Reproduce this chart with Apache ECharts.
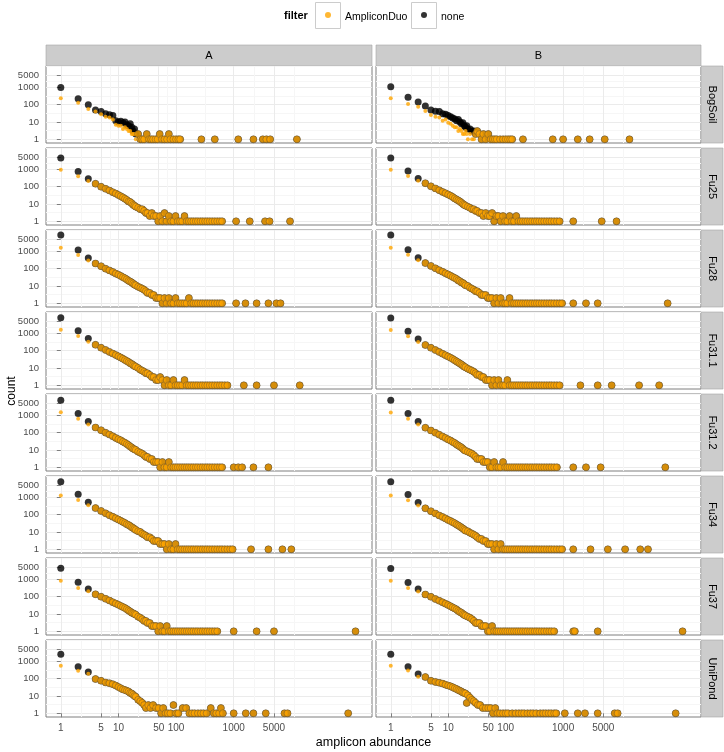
<!DOCTYPE html>
<html><head><meta charset="utf-8">
<script src="https://cdn.jsdelivr.net/npm/echarts@6/dist/echarts.min.js"></script>
<style>html,body{margin:0;padding:0;background:#fff}#c{width:724px;height:752px}</style>
</head><body><div id="c"></div>
<script>
// ---------- categories / ticks ----------
const rowNames = ['BogSoil','Fu25','Fu28','Fu31.1','Fu31.2','Fu34','Fu37','UniPond'];
const colNames = ['A','B'];
const legendNames = ['AmpliconDuo','none'];
const xTickLabels = [1,5,10,50,100,1000,5000];
const yTickLabels = [1,10,100,1000,5000];

// ---------- data: abundance, count(none), count(AmpliconDuo) ----------
const BogSoil_A_abund = [1,2,3,4,5,6,7,8,9,10,11,12,13,14,15,16,17,18,19,20,22,24,26,28,31,34,37,40,44,48,52,57,63,70,75,80,90,100,110,118,275,470,1200,2200,3200,3700,4300,12500];
const BogSoil_A_none  = [1000,220,100,49,40,30,26,24,12,10,11,9,10,7,6,8,5,3,4,2,2,1,1,1,2,1,1,1,1,1,2,1,1,1,2,1,1,1,1,1,1,1,1,1,1,1,1,1];
const BogSoil_A_amp   = [235,130,57,40,28,20,18,14,7,6,6,4,5,4,3,3,2,2,2,1,2,1,1,1,2,1,1,1,1,1,2,1,1,1,2,1,1,1,1,1,1,1,1,1,1,1,1,1];

const BogSoil_B_abund = [1,2,3,4,5,6,7,8,9,10,11,12,13,14,15,16,17,18,19,20,21,22,24,26,28,30,32,35,38,41,45,50,55,60,65,70,80,90,100,110,120,130,200,660,1000,1800,2900,5300,14300];
const BogSoil_B_none  = [1100,270,145,84,49,42,40,30,28,24,20,17,15,12,14,10,8,9,6,5,6,4,4,3,3,2,3,2,1,2,1,2,1,1,1,1,1,1,1,1,1,1,1,1,1,1,1,1,1];
const BogSoil_B_amp   = [235,110,76,43,25,20,18,12,14,9,8,6,5,5,3,4,3,2,2,3,2,1,2,1,1,2,3,2,1,2,1,2,1,1,1,1,1,1,1,1,1,1,1,1,1,1,1,1,1];

const Fu25_A_abund = [1,2,3,4,5,6,7,8,9,10,11,12,13,14,15,16,17,18,19,20,22,24,26,28,30,32,35,38,41,45,49,53,58,63,69,75,82,90,98,107,117,128,140,153,167,183,200,220,240,265,290,320,350,385,425,470,520,575,630,1100,1900,3500,4200,9500];
const Fu25_A_none  = [4500,750,290,150,100,75,60,48,40,33,28,24,20,17,14,13,11,9,8,7,6,5,5,4,3,3,2,3,2,2,1,2,1,3,1,2,1,1,2,1,1,1,2,1,1,1,1,1,1,1,1,1,1,1,1,1,1,1,1,1,1,1,1,1];
const Fu25_A_amp   = [950,400,210,150,100,75,60,48,40,33,28,24,20,17,14,13,11,9,8,7,6,5,5,4,3,3,2,3,2,2,1,2,1,3,1,2,1,1,2,1,1,1,2,1,1,1,1,1,1,1,1,1,1,1,1,1,1,1,1,1,1,1,1,1];

const Fu25_B_abund = [1,2,3,4,5,6,7,8,9,10,11,12,13,14,15,16,17,18,19,20,22,24,26,28,30,32,35,38,41,45,49,53,58,63,69,75,82,90,98,107,117,128,140,153,167,183,200,220,240,265,290,320,350,385,425,470,520,575,630,700,780,870,1500,4700,8500];
const Fu25_B_none  = [4600,800,300,160,105,80,62,50,42,35,30,25,21,18,16,14,12,10,9,8,7,6,5,5,4,4,3,3,2,3,2,2,3,1,2,2,1,2,1,1,2,1,1,2,1,1,1,1,1,1,1,1,1,1,1,1,1,1,1,1,1,1,1,1,1];
const Fu25_B_amp   = [950,420,220,160,105,80,62,50,42,35,30,25,21,18,16,14,12,10,9,8,7,6,5,5,4,4,3,3,2,3,2,2,3,1,2,2,1,2,1,1,2,1,1,2,1,1,1,1,1,1,1,1,1,1,1,1,1,1,1,1,1,1,1,1,1];

const Fu28_A_abund = [1,2,3,4,5,6,7,8,9,10,11,12,13,14,15,16,17,18,19,20,22,24,26,28,30,32,35,38,41,45,49,53,58,63,69,75,82,90,98,107,117,128,140,153,167,183,200,220,240,265,290,320,350,385,425,470,520,575,630,1100,1600,2500,4000,5500,6500];
const Fu28_A_none  = [9000,1200,420,200,140,100,80,65,52,45,38,32,28,24,20,18,16,14,12,11,9,8,7,6,5,4,4,3,3,2,2,2,1,2,1,2,1,1,2,1,1,1,1,1,2,1,1,1,1,1,1,1,1,1,1,1,1,1,1,1,1,1,1,1,1];
const Fu28_A_amp   = [1600,620,300,200,140,100,80,65,52,45,38,32,28,24,20,18,16,14,12,11,9,8,7,6,5,4,4,3,3,2,2,2,1,2,1,2,1,1,2,1,1,1,1,1,2,1,1,1,1,1,1,1,1,1,1,1,1,1,1,1,1,1,1,1,1];

const Fu28_B_abund = [1,2,3,4,5,6,7,8,9,10,11,12,13,14,15,16,17,18,19,20,22,24,26,28,30,32,35,38,41,45,49,53,58,63,69,75,82,90,98,107,117,128,140,153,167,183,200,220,240,265,290,320,350,385,425,470,520,575,630,700,780,870,960,1500,2500,4000,66000];
const Fu28_B_none  = [9000,1250,430,210,145,105,82,66,54,46,39,33,29,25,21,19,16,15,13,11,10,8,7,6,5,5,4,3,3,3,2,2,2,1,2,1,2,1,1,1,2,1,1,1,1,1,1,1,1,1,1,1,1,1,1,1,1,1,1,1,1,1,1,1,1,1,1];
const Fu28_B_amp   = [1650,640,310,210,145,105,82,66,54,46,39,33,29,25,21,19,16,15,13,11,10,8,7,6,5,5,4,3,3,3,2,2,2,1,2,1,2,1,1,1,2,1,1,1,1,1,1,1,1,1,1,1,1,1,1,1,1,1,1,1,1,1,1,1,1,1,1];

const Fu31_1_A_abund = [1,2,3,4,5,6,7,8,9,10,11,12,13,14,15,16,17,18,19,20,22,24,26,28,30,32,35,38,41,45,49,53,58,63,69,75,82,90,98,107,117,128,140,153,167,183,200,220,240,265,290,320,350,385,425,470,520,575,630,700,780,1500,2500,5000,14000];
const Fu31_1_A_none  = [7900,1400,500,220,150,110,85,68,56,47,40,34,29,25,22,19,17,15,13,12,10,8,7,6,5,5,4,3,3,2,2,3,2,1,2,1,1,2,1,1,1,1,2,1,1,1,1,1,1,1,1,1,1,1,1,1,1,1,1,1,1,1,1,1,1];
const Fu31_1_A_amp   = [1600,700,330,220,150,110,85,68,56,47,40,34,29,25,22,19,17,15,13,12,10,8,7,6,5,5,4,3,3,2,2,3,2,1,2,1,1,2,1,1,1,1,2,1,1,1,1,1,1,1,1,1,1,1,1,1,1,1,1,1,1,1,1,1,1];

const Fu31_1_B_abund = [1,2,3,4,5,6,7,8,9,10,11,12,13,14,15,16,17,18,19,20,22,24,26,28,30,32,35,38,41,45,49,53,58,63,69,75,82,90,98,107,117,128,140,153,167,183,200,220,240,265,290,320,350,385,425,470,520,575,630,700,780,870,2000,4000,7000,21000,47000];
const Fu31_1_B_none  = [7800,1350,480,215,148,108,84,66,55,46,39,33,28,24,21,18,16,14,12,11,9,8,7,6,5,4,4,3,3,2,2,2,1,2,1,2,1,1,1,2,1,1,1,1,1,1,1,1,1,1,1,1,1,1,1,1,1,1,1,1,1,1,1,1,1,1,1];
const Fu31_1_B_amp   = [1550,680,320,215,148,108,84,66,55,46,39,33,28,24,21,18,16,14,12,11,9,8,7,6,5,4,4,3,3,2,2,2,1,2,1,2,1,1,1,2,1,1,1,1,1,1,1,1,1,1,1,1,1,1,1,1,1,1,1,1,1,1,1,1,1,1,1];

const Fu31_2_A_abund = [1,2,3,4,5,6,7,8,9,10,11,12,13,14,15,16,17,18,19,20,22,24,26,28,30,32,35,38,41,45,49,53,58,63,69,75,82,90,98,107,117,128,140,153,167,183,200,220,240,265,290,320,350,385,425,470,520,575,630,1000,1200,1400,2200,4000];
const Fu31_2_A_none  = [7500,1300,450,200,140,100,78,62,50,42,36,30,26,22,19,16,14,12,11,10,8,7,6,5,4,4,3,3,2,2,2,1,2,1,1,2,1,1,1,1,1,1,1,1,1,1,1,1,1,1,1,1,1,1,1,1,1,1,1,1,1,1,1,1];
const Fu31_2_A_amp   = [1500,650,300,200,140,100,78,62,50,42,36,30,26,22,19,16,14,12,11,10,8,7,6,5,4,4,3,3,2,2,2,1,2,1,1,2,1,1,1,1,1,1,1,1,1,1,1,1,1,1,1,1,1,1,1,1,1,1,1,1,1,1,1,1];

const Fu31_2_B_abund = [1,2,3,4,5,6,7,8,9,10,11,12,13,14,15,16,17,18,19,20,22,24,26,28,30,32,35,38,41,45,49,53,58,63,69,75,82,90,98,107,117,128,140,153,167,183,200,220,240,265,290,320,350,385,425,470,520,575,630,700,780,1500,2500,4500,60000];
const Fu31_2_B_none  = [7400,1280,440,195,135,98,76,60,49,41,35,29,25,21,18,16,14,12,10,9,8,7,6,5,4,3,3,3,2,2,2,1,1,2,1,1,1,2,1,1,1,1,1,1,1,1,1,1,1,1,1,1,1,1,1,1,1,1,1,1,1,1,1,1,1];
const Fu31_2_B_amp   = [1480,640,295,195,135,98,76,60,49,41,35,29,25,21,18,16,14,12,10,9,8,7,6,5,4,3,3,3,2,2,2,1,1,2,1,1,1,2,1,1,1,1,1,1,1,1,1,1,1,1,1,1,1,1,1,1,1,1,1,1,1,1,1,1,1];

const Fu34_A_abund = [1,2,3,4,5,6,7,8,9,10,11,12,13,14,15,16,17,18,19,20,22,24,26,28,30,32,35,38,41,45,49,53,58,63,69,75,82,90,98,107,117,128,140,153,167,183,200,220,240,265,290,320,350,385,425,470,520,575,630,700,780,870,960,2000,4000,7000,10000];
const Fu34_A_none  = [8000,1500,520,240,165,120,92,75,62,52,44,38,33,28,25,22,19,17,15,13,11,10,8,7,6,5,5,4,3,3,3,2,2,2,1,2,1,1,2,1,1,1,1,1,1,1,1,1,1,1,1,1,1,1,1,1,1,1,1,1,1,1,1,1,1,1,1];
const Fu34_A_amp   = [1300,700,350,240,165,120,92,75,62,52,44,38,33,28,25,22,19,17,15,13,11,10,8,7,6,5,5,4,3,3,3,2,2,2,1,2,1,1,2,1,1,1,1,1,1,1,1,1,1,1,1,1,1,1,1,1,1,1,1,1,1,1,1,1,1,1,1];

const Fu34_B_abund = [1,2,3,4,5,6,7,8,9,10,11,12,13,14,15,16,17,18,19,20,22,24,26,28,30,32,35,38,41,45,49,53,58,63,69,75,82,90,98,107,117,128,140,153,167,183,200,220,240,265,290,320,350,385,425,470,520,575,630,700,780,870,960,1500,3000,6000,12000,22000,30000];
const Fu34_B_none  = [7900,1480,510,235,160,118,90,73,60,50,43,37,32,27,24,21,18,16,14,12,11,9,8,7,6,5,4,4,3,3,2,2,2,1,2,1,2,1,1,1,1,1,1,1,1,1,1,1,1,1,1,1,1,1,1,1,1,1,1,1,1,1,1,1,1,1,1,1,1];
const Fu34_B_amp   = [1280,690,345,235,160,118,90,73,60,50,43,37,32,27,24,21,18,16,14,12,11,9,8,7,6,5,4,4,3,3,2,2,2,1,2,1,2,1,1,1,1,1,1,1,1,1,1,1,1,1,1,1,1,1,1,1,1,1,1,1,1,1,1,1,1,1,1,1,1];

const Fu37_A_abund = [1,2,3,4,5,6,7,8,9,10,11,12,13,14,15,16,17,18,19,20,22,24,26,28,30,32,35,38,41,45,49,53,58,63,69,75,82,90,98,107,117,128,140,153,167,183,200,220,240,265,290,320,350,385,425,470,520,1000,2500,5000,130000];
const Fu37_A_none  = [4400,680,280,138,100,75,60,48,40,34,29,25,22,19,16,14,12,11,10,9,7,6,5,4,4,3,3,2,2,2,1,2,1,1,2,1,1,1,1,1,1,1,1,1,1,1,1,1,1,1,1,1,1,1,1,1,1,1,1,1,1];
const Fu37_A_amp   = [840,320,205,138,100,75,60,48,40,34,29,25,22,19,16,14,12,11,10,9,7,6,5,4,4,3,3,2,2,2,1,2,1,1,2,1,1,1,1,1,1,1,1,1,1,1,1,1,1,1,1,1,1,1,1,1,1,1,1,1,1];

const Fu37_B_abund = [1,2,3,4,5,6,7,8,9,10,11,12,13,14,15,16,17,18,19,20,22,24,26,28,30,32,35,38,41,45,49,53,58,63,69,75,82,90,98,107,117,128,140,153,167,183,200,220,240,265,290,320,350,385,425,470,520,575,630,700,1500,1600,4000,120000];
const Fu37_B_none  = [4300,670,275,135,98,73,58,47,39,33,28,24,21,18,15,13,12,10,9,8,7,6,5,4,3,3,3,2,2,2,1,1,2,1,1,1,1,1,1,1,1,1,1,1,1,1,1,1,1,1,1,1,1,1,1,1,1,1,1,1,1,1,1,1];
const Fu37_B_amp   = [830,315,200,135,98,73,58,47,39,33,28,24,21,18,15,13,12,10,9,8,7,6,5,4,3,3,3,2,2,2,1,1,2,1,1,1,1,1,1,1,1,1,1,1,1,1,1,1,1,1,1,1,1,1,1,1,1,1,1,1,1,1,1,1];

const UniPond_A_abund = [1,2,3,4,5,6,7,8,9,10,11,12,13,14,15,16,17,18,19,20,22,24,26,28,30,33,36,40,45,50,55,60,66,72,80,90,100,110,130,150,170,190,210,240,270,300,340,400,450,500,560,600,650,1000,1620,2200,3600,7600,8600,97000];
const UniPond_A_none  = [2600,490,245,96,76,60,55,48,40,33,28,24,22,20,18,15,14,12,10,9,6,5,4,3,2,3,2,3,2,2,1,2,1,1,1,3,1,1,2,2,1,1,1,1,1,1,1,2,1,1,1,2,1,1,1,1,1,1,1,1];
const UniPond_A_amp   = [560,290,195,96,76,60,55,48,40,33,28,24,22,20,18,15,14,12,10,9,6,5,4,3,2,3,2,3,2,2,1,2,1,1,1,3,1,1,2,2,1,1,1,1,1,1,1,2,1,1,1,2,1,1,1,1,1,1,1,1];

const UniPond_B_abund = [1,2,3,4,5,6,7,8,9,10,11,12,13,14,15,16,17,18,19,20,21,22,24,26,28,30,33,36,40,45,50,55,60,66,72,80,90,100,110,130,150,170,190,210,240,270,300,340,400,450,500,560,620,700,760,1070,1800,2400,4000,7900,8900,91000];
const UniPond_B_none  = [2600,490,186,125,76,65,58,52,45,40,36,32,28,25,22,20,18,16,15,14,4,11,8,6,5,4,3,3,2,2,2,2,1,2,1,1,1,1,1,1,1,1,1,1,1,1,1,1,1,1,1,1,1,1,1,1,1,1,1,1,1,1];
const UniPond_B_amp   = [560,300,130,125,76,65,58,52,45,40,36,32,28,25,22,20,18,16,15,14,4,11,8,6,5,4,3,3,2,2,2,2,1,2,1,1,1,1,1,1,1,1,1,1,1,1,1,1,1,1,1,1,1,1,1,1,1,1,1,1,1,1];

const panelData = {
  'BogSoil|A':[BogSoil_A_abund,BogSoil_A_none,BogSoil_A_amp], 'BogSoil|B':[BogSoil_B_abund,BogSoil_B_none,BogSoil_B_amp],
  'Fu25|A':[Fu25_A_abund,Fu25_A_none,Fu25_A_amp], 'Fu25|B':[Fu25_B_abund,Fu25_B_none,Fu25_B_amp],
  'Fu28|A':[Fu28_A_abund,Fu28_A_none,Fu28_A_amp], 'Fu28|B':[Fu28_B_abund,Fu28_B_none,Fu28_B_amp],
  'Fu31.1|A':[Fu31_1_A_abund,Fu31_1_A_none,Fu31_1_A_amp], 'Fu31.1|B':[Fu31_1_B_abund,Fu31_1_B_none,Fu31_1_B_amp],
  'Fu31.2|A':[Fu31_2_A_abund,Fu31_2_A_none,Fu31_2_A_amp], 'Fu31.2|B':[Fu31_2_B_abund,Fu31_2_B_none,Fu31_2_B_amp],
  'Fu34|A':[Fu34_A_abund,Fu34_A_none,Fu34_A_amp], 'Fu34|B':[Fu34_B_abund,Fu34_B_none,Fu34_B_amp],
  'Fu37|A':[Fu37_A_abund,Fu37_A_none,Fu37_A_amp], 'Fu37|B':[Fu37_B_abund,Fu37_B_none,Fu37_B_amp],
  'UniPond|A':[UniPond_A_abund,UniPond_A_none,UniPond_A_amp], 'UniPond|B':[UniPond_B_abund,UniPond_B_none,UniPond_B_amp]
};

// ---------- layout / style ----------
const FONT = 'Liberation Sans, Arial, Helvetica, sans-serif';
const PANEL_LEFT = [46, 376], PANEL_W = [326, 325];
const TOP0 = 66, PANEL_H = 77, PITCH = 82;
const X_MIN = -0.257, X_MAX = 5.40, Y_MIN = -0.214, Y_MAX = 4.237;
const ORANGE = '#FFA500';
const lg = Math.log10;
const xMajor = xTickLabels.map(lg), yMajor = yTickLabels.map(lg);
function minorOf(maj, lo, hi) {
  const d = maj[1]-maj[0];
  const b = [maj[0]-d].concat(maj, [maj[maj.length-1]+d]);
  const out = [];
  for (let i=0;i<b.length-1;i++){ const m=(b[i]+b[i+1])/2; if (m>lo && m<hi) out.push(m); }
  return out;
}
const xMinor = minorOf(xMajor, X_MIN, X_MAX), yMinor = minorOf(yMajor, Y_MIN, Y_MAX);
const fmt = v => String(Math.round(Math.pow(10, v)));

const grids=[], xAxes=[], yAxes=[], series=[], graphics=[];
rowNames.forEach((rn, r) => {
  colNames.forEach((cn, c) => {
    const gi = grids.length;
    const top = TOP0 + PITCH*r;
    grids.push({left: PANEL_LEFT[c], top: top, width: PANEL_W[c], height: PANEL_H, show: true,
      backgroundColor: '#fff', borderColor: '#7f7f7f', borderWidth: 1});
    const bottom = r === rowNames.length-1, leftCol = c === 0;
    xAxes.push({gridIndex: gi, type: 'value', min: X_MIN, max: X_MAX, position: 'bottom',
      axisLine: {show: false},
      axisTick: {show: bottom, customValues: xMajor, length: 4, lineStyle: {color: '#7f7f7f'}},
      axisLabel: {show: bottom, customValues: xMajor, formatter: fmt, margin: 6, fontSize: 10, color: '#4d4d4d', fontFamily: FONT},
      splitLine: {show: true, lineStyle: {color: '#ebebeb', width: 1}}});
    xAxes.push({gridIndex: gi, type: 'value', min: X_MIN, max: X_MAX, position: 'top', show: true,
      axisLine: {show: false}, axisTick: {show: false, customValues: xMinor}, axisLabel: {show: false, customValues: xMinor},
      splitLine: {show: true, lineStyle: {color: '#f6f6f6', width: 1}}});
    yAxes.push({gridIndex: gi, type: 'value', min: Y_MIN, max: Y_MAX, position: 'left',
      axisLine: {show: false},
      axisTick: {show: leftCol, customValues: yMajor, length: 4, lineStyle: {color: '#7f7f7f'}},
      axisLabel: {show: leftCol, customValues: yMajor, formatter: fmt, margin: 7, fontSize: 9.5, color: '#4d4d4d', fontFamily: FONT},
      splitLine: {show: true, lineStyle: {color: '#ebebeb', width: 1}}});
    yAxes.push({gridIndex: gi, type: 'value', min: Y_MIN, max: Y_MAX, position: 'right', show: true,
      axisLine: {show: false}, axisTick: {show: false, customValues: yMinor}, axisLabel: {show: false, customValues: yMinor},
      splitLine: {show: true, lineStyle: {color: '#f6f6f6', width: 1}}});

    const [ab, none, amp] = panelData[rn + '|' + cn];
    const n = Math.min(ab.length, none.length, amp.length);
    const noneD = [], ampSmall = [], ampBig = [];
    for (let i=0;i<n;i++) {
      noneD.push([lg(ab[i]), lg(none[i])]);
      if (amp[i] == null) continue;
      if (amp[i] === none[i]) ampBig.push([lg(ab[i]), lg(amp[i])]);
      else ampSmall.push([lg(ab[i]), lg(amp[i])]);
    }
    const xi = 2*gi, yi = 2*gi;
    series.push({type: 'scatter', name: 'none', xAxisIndex: xi, yAxisIndex: yi, data: noneD, symbolSize: 7,
      itemStyle: {color: '#000'}, silent: true, z: 2});
    series.push({type: 'scatter', name: 'AmpliconDuo', xAxisIndex: xi, yAxisIndex: yi, data: ampSmall, symbolSize: 4,
      itemStyle: {color: ORANGE}, silent: true, z: 3});
    series.push({type: 'scatter', name: 'AmpliconDuo', xAxisIndex: xi, yAxisIndex: yi, data: ampBig, symbolSize: 7,
      itemStyle: {color: ORANGE, borderColor: '#3d3d3d', borderWidth: 0.45}, silent: true, z: 4});

    // strips
    if (r === 0) {
      graphics.push({type: 'rect', shape: {x: PANEL_LEFT[c], y: 45, width: PANEL_W[c], height: 21},
        style: {fill: '#cccccc', stroke: '#a6a6a6', lineWidth: 0.6}, silent: true});
      graphics.push({type: 'text', x: PANEL_LEFT[c] + PANEL_W[c]/2, y: 55.5,
        style: {text: cn, fill: '#000', font: '11px ' + FONT, align: 'center', verticalAlign: 'middle'}, silent: true});
    }
    if (c === 1) {
      graphics.push({type: 'rect', shape: {x: 701, y: top, width: 22, height: PANEL_H},
        style: {fill: '#cccccc', stroke: '#a6a6a6', lineWidth: 0.6}, silent: true});
      graphics.push({type: 'text', x: 712, y: top + PANEL_H/2, rotation: -Math.PI/2,
        style: {text: rn, fill: '#000', font: '11px ' + FONT, align: 'center', verticalAlign: 'middle'}, silent: true});
    }
  });
});

// axis titles
graphics.push({type: 'text', x: 12, y: 391, rotation: Math.PI/2,
  style: {text: 'count', fill: '#000', font: '12px ' + FONT, align: 'center', verticalAlign: 'middle'}, silent: true});
graphics.push({type: 'text', x: 373.5, y: 743,
  style: {text: 'amplicon abundance', fill: '#000', font: '12.5px ' + FONT, align: 'center', verticalAlign: 'middle'}, silent: true});
// legend title & key boxes
graphics.push({type: 'text', x: 284, y: 15.5,
  style: {text: 'filter', fill: '#000', font: 'bold 11px ' + FONT, align: 'left', verticalAlign: 'middle'}, silent: true});
graphics.push({type: 'rect', shape: {x: 315.5, y: 2.5, width: 25, height: 26}, style: {fill: '#fff', stroke: '#cccccc', lineWidth: 1}, silent: true, z: -1});
graphics.push({type: 'rect', shape: {x: 411.5, y: 2.5, width: 25, height: 26}, style: {fill: '#fff', stroke: '#cccccc', lineWidth: 1}, silent: true, z: -1});

const legendText = {fontSize: 10.5, color: '#000', fontFamily: FONT,
  rich: {t: {fontSize: 10.5, fontFamily: FONT, color: '#000', padding: [5, 0, 0, 9]}}};
const chart = echarts.init(document.getElementById('c'), null, {renderer: 'canvas'});
chart.setOption({
  animation: false,
  backgroundColor: '#fff',
  textStyle: {fontFamily: FONT},
  grid: grids, xAxis: xAxes, yAxis: yAxes, series: series,
  legend: [
    {data: [{name: legendNames[0], icon: 'circle', itemStyle: {color: ORANGE, borderWidth: 0}}], left: 325, top: 12,
     itemWidth: 6, itemHeight: 6, itemGap: 0, selectedMode: false, padding: 0,
     formatter: name => '{t|' + name + '}', textStyle: legendText},
    {data: [{name: legendNames[1], icon: 'circle', itemStyle: {color: '#000'}}], left: 421, top: 12,
     itemWidth: 6, itemHeight: 6, itemGap: 0, selectedMode: false, padding: 0,
     formatter: name => '{t|' + name + '}', textStyle: legendText}
  ],
  graphic: graphics
});
</script>
</body></html>
